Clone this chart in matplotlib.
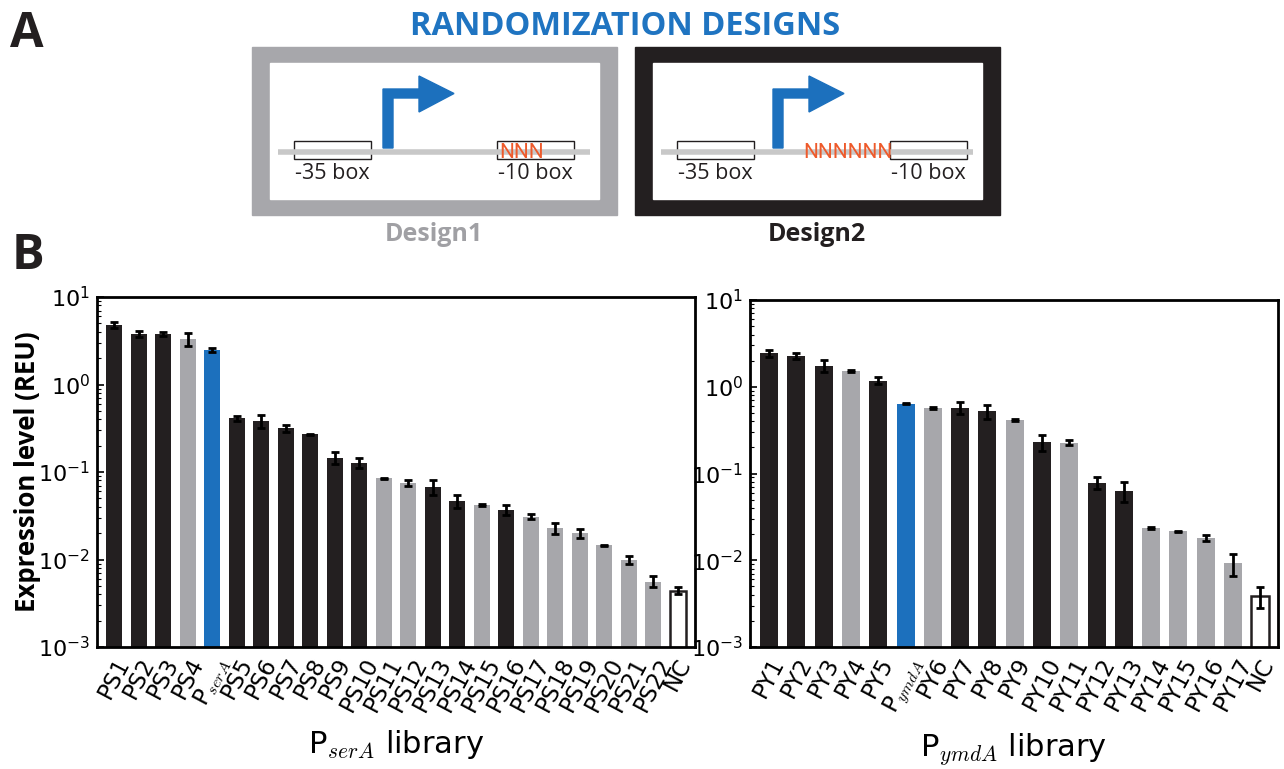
import numpy as np
import matplotlib
matplotlib.use('Agg')
import matplotlib.pyplot as plt
from matplotlib.patches import Rectangle, Polygon

plt.rcParams['mathtext.fontset'] = 'cm'
plt.rcParams['axes.unicode_minus'] = False

DARK = '#231f20'
GRAY = '#a7a7ab'
BLUE = '#1c70bd'
RED = '#ee5a2b'
colors = {'d2': DARK, 'd1': GRAY, 'wt': BLUE, 'nc': 'white'}

# P_serA library
sera_labels = ['PS1', 'PS2', 'PS3', 'PS4', 'P$_{serA}$', 'PS5', 'PS6', 'PS7', 'PS8',
               'PS9', 'PS10', 'PS11', 'PS12', 'PS13', 'PS14', 'PS15', 'PS16', 'PS17',
               'PS18', 'PS19', 'PS20', 'PS21', 'PS22', 'NC']
sera_values = [4.8, 3.8, 3.8, 3.3, 2.5, 0.41, 0.385, 0.315, 0.27, 0.146, 0.128, 0.0845,
               0.075, 0.068, 0.047, 0.042, 0.037, 0.031, 0.0229, 0.020, 0.0145, 0.0099,
               0.0056, 0.0044]
sera_errors = [0.33, 0.33, 0.22, 0.55, 0.13, 0.024, 0.065, 0.025, 0.005, 0.024, 0.016,
               0.001, 0.006, 0.014, 0.008, 0.0008, 0.005, 0.0023, 0.0034, 0.0024, 0.0003,
               0.001, 0.0008, 0.0004]
sera_groups = ['d2', 'd2', 'd2', 'd1', 'wt', 'd2', 'd2', 'd2', 'd2', 'd2', 'd2', 'd1',
               'd1', 'd2', 'd2', 'd1', 'd2', 'd1', 'd1', 'd1', 'd1', 'd1', 'd1', 'nc']

# P_ymdA library
ymda_labels = ['PY1', 'PY2', 'PY3', 'PY4', 'PY5', 'P$_{ymdA}$', 'PY6', 'PY7', 'PY8',
               'PY9', 'PY10', 'PY11', 'PY12', 'PY13', 'PY14', 'PY15', 'PY16', 'PY17', 'NC']
ymda_values = [2.43, 2.26, 1.75, 1.52, 1.18, 0.64, 0.57, 0.57, 0.52, 0.41, 0.23, 0.226,
               0.078, 0.063, 0.0236, 0.0216, 0.0181, 0.0092, 0.0039]
ymda_errors = [0.2, 0.16, 0.28, 0.04, 0.1, 0.015, 0.01, 0.09, 0.09, 0.01, 0.048, 0.015,
               0.0125, 0.016, 0.0004, 0.0003, 0.0015, 0.0026, 0.00105]
ymda_groups = ['d2', 'd2', 'd2', 'd1', 'd2', 'wt', 'd1', 'd2', 'd2', 'd1', 'd2', 'd1',
               'd2', 'd2', 'd1', 'd1', 'd1', 'd1', 'nc']

fig = plt.figure(figsize=(12.84, 7.69), dpi=100)
W, H = 1284, 769


def bar_panel(rect, labels, values, errors, groups, xlabel, xlim):
    ax = fig.add_axes(rect)
    x = np.arange(len(values))
    cols = [colors[g] for g in groups]
    edges = [DARK if g == 'nc' else 'none' for g in groups]
    ax.bar(x, values, width=0.66, color=cols, edgecolor=edges, linewidth=1.8, zorder=2)
    ax.errorbar(x, values, yerr=errors, fmt='none', ecolor='black', elinewidth=2,
                capsize=3, capthick=2, zorder=3)
    ax.set_yscale('log')
    ax.set_ylim(1e-3, 1e1)
    ax.set_xlim(*xlim)
    ax.set_xticks(x)
    ax.set_xticklabels(labels, rotation=62, fontsize=16.5)
    ax.tick_params(axis='x', length=0, pad=5)
    ax.tick_params(axis='y', which='both', direction='in', right=False, labelsize=16, pad=5)
    ax.tick_params(axis='y', which='major', length=5, width=1.2)
    ax.tick_params(axis='y', which='minor', length=3, width=0.8)
    for s in ax.spines.values():
        s.set_linewidth(2)
    ax.set_xlabel(xlabel, fontsize=22, labelpad=9)
    return ax


ax1 = bar_panel([97 / W, 1 - 647 / H, 598 / W, 350 / H], sera_labels, sera_values,
                sera_errors, sera_groups, 'P$_{serA}$ library', (-0.7, 23.7))
ax1.set_ylabel('Expression level (REU)', family='Open Sans', fontweight='bold',
               fontsize=18.5)
ax1.yaxis.set_label_coords(-0.094, 0.5)
ax2 = bar_panel([750 / W, 1 - 647 / H, 528 / W, 347 / H], ymda_labels, ymda_values,
                ymda_errors, ymda_groups, 'P$_{ymdA}$ library', (-0.7, 18.65))

# top diagram drawn in pixel coordinates
dg = fig.add_axes([0, 0, 1, 1], zorder=-1)
dg.set_xlim(0, W)
dg.set_ylim(H, 0)
dg.axis('off')

dg.text(10, 47, 'A', family='Open Sans', fontweight='bold', fontsize=35, color=DARK)
dg.text(12, 269, 'B', family='Open Sans', fontweight='bold', fontsize=35, color=DARK)
dg.text(625, 35, 'RANDOMIZATION DESIGNS', family='Open Sans', fontweight='bold',
        fontsize=23.5, color='#1f74c1', ha='center')


def design(x0, frame_col, n_text, n_x, box10_x, arrow_x, label, label_col):
    dg.add_patch(Rectangle((x0, 47), 365, 168, color=frame_col))
    dg.add_patch(Rectangle((x0 + 18, 63), 329, 136, color='white'))
    dg.plot([x0 + 26, x0 + 338], [151.5, 151.5], color='#c8c8c8', lw=4, solid_capstyle='butt')
    dg.add_patch(Rectangle((x0 + 42, 141), 77, 18, fill=False, ec=DARK, lw=1))
    dg.add_patch(Rectangle((box10_x, 141), 77, 18, fill=False, ec=DARK, lw=1))
    a = arrow_x
    dg.add_patch(Polygon([(a, 148), (a, 89), (a + 36, 89), (a + 36, 76), (a + 71, 93.5),
                          (a + 36, 112), (a + 36, 98), (a + 10, 98), (a + 10, 148)],
                         closed=True, color=BLUE))
    dg.text(n_x, 158.5, n_text, family='Roboto', fontsize=15, color=RED)
    dg.text(x0 + 80, 179, '-35 box', family='Open Sans', fontsize=15.5, color=DARK, ha='center')
    dg.text(box10_x + 38, 179, '-10 box', family='Open Sans', fontsize=15.5, color=DARK,
            ha='center')
    dg.text(x0 + 182, 241, label, family='Open Sans', fontweight='bold', fontsize=18,
            color=label_col, ha='center')


design(252, GRAY, 'NNN', 499, 497, 383, 'Design1', '#a0a0a4')
design(635, DARK, 'NNNNNN', 803, 890, 773, 'Design2', DARK)

fig.savefig('out.png', dpi=100)
